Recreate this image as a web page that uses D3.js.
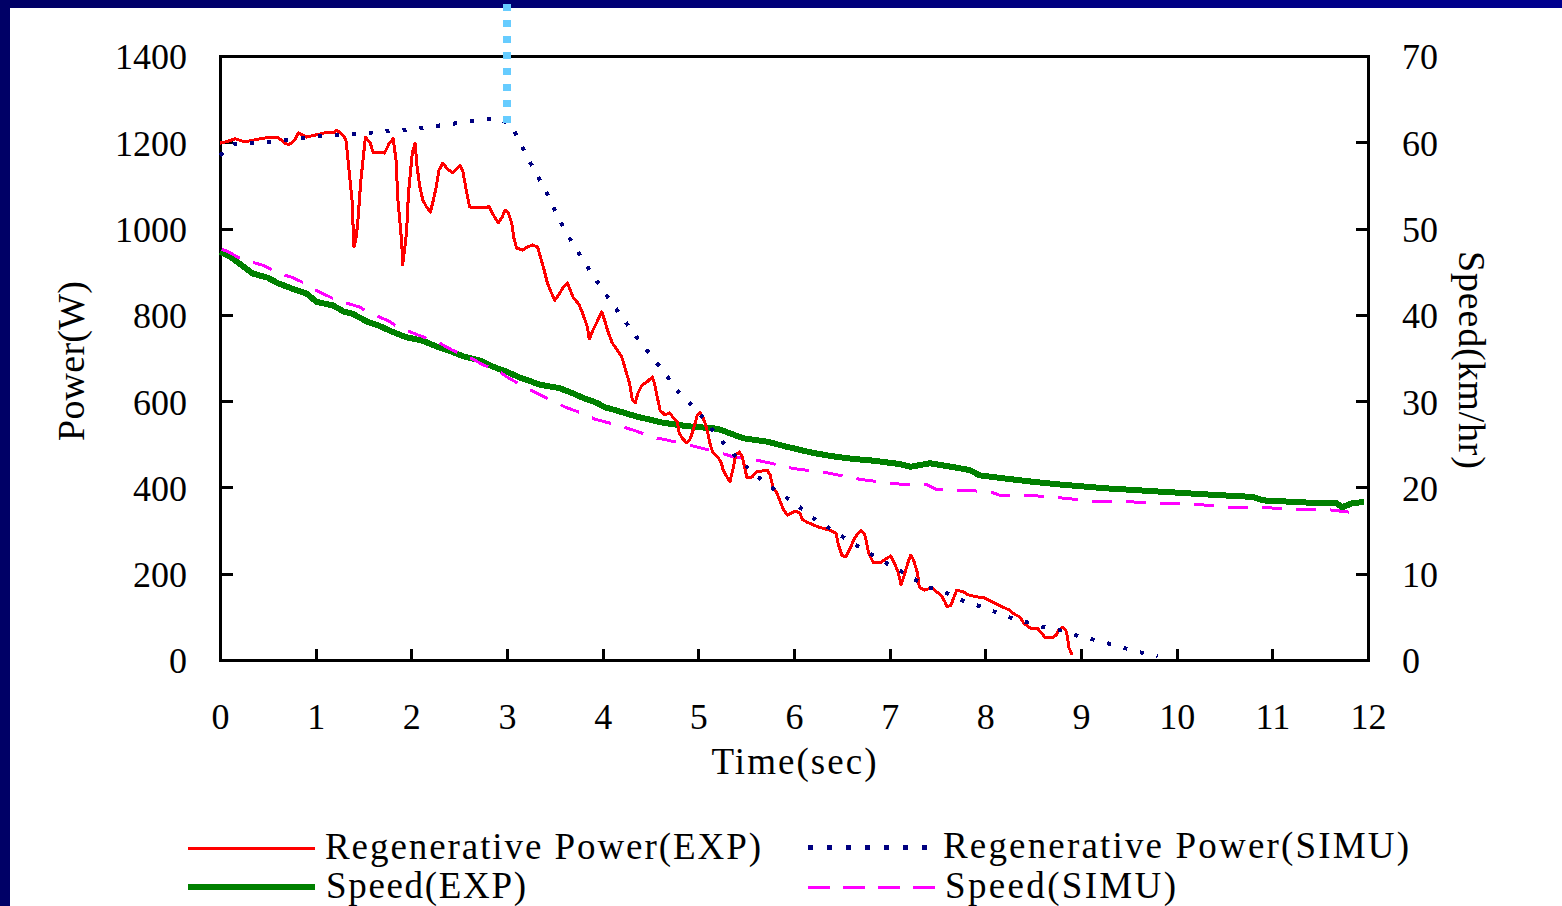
<!DOCTYPE html>
<html>
<head>
<meta charset="utf-8">
<script src="https://cdn.jsdelivr.net/npm/d3@7"></script>
<style>
  body { margin: 0; background: #fff; }
  svg { display: block; }
  text { font-family: "Liberation Serif", "Times New Roman", serif; fill: #000; }
  path, line, rect { shape-rendering: crispEdges; }
</style>
</head>
<body>
<svg id="chart" width="1562" height="906"></svg>
<script>
// time axis / tick labels
var xTicks = [0,1,2,3,4,5,6,7,8,9,10,11,12];
var powerTicks = [0,200,400,600,800,1000,1200,1400];
var speedTicks = [0,10,20,30,40,50,60,70];

// Regenerative Power (EXP)
var expPowerTime = [0,0.06,0.16,0.26,0.42,0.52,0.60,0.68,0.72,0.78,0.82,0.90,1.10,1.18,1.22,1.26,1.30,1.32,1.34,1.38,1.40,1.42,1.44,1.47,1.52,1.57,1.60,1.72,1.77,1.81,1.84,1.86,1.90,1.91,1.95,1.97,2.01,2.04,2.06,2.09,2.12,2.16,2.20,2.23,2.26,2.29,2.33,2.37,2.43,2.46,2.51,2.54,2.58,2.61,2.79,2.81,2.84,2.87,2.91,2.95,2.98,3.01,3.05,3.07,3.10,3.16,3.21,3.27,3.32,3.38,3.42,3.46,3.50,3.54,3.59,3.63,3.66,3.69,3.75,3.79,3.84,3.86,3.90,3.95,3.99,4.02,4.06,4.10,4.15,4.20,4.24,4.28,4.31,4.34,4.37,4.41,4.46,4.52,4.54,4.57,4.60,4.65,4.70,4.74,4.78,4.80,4.84,4.88,4.91,4.94,4.99,5.02,5.05,5.07,5.10,5.12,5.15,5.21,5.24,5.26,5.30,5.33,5.36,5.39,5.43,5.46,5.49,5.51,5.56,5.61,5.72,5.75,5.78,5.82,5.85,5.89,5.93,6.01,6.06,6.09,6.15,6.26,6.37,6.44,6.46,6.50,6.54,6.59,6.61,6.64,6.70,6.74,6.76,6.78,6.83,6.90,6.96,7.01,7.05,7.09,7.12,7.16,7.19,7.22,7.25,7.29,7.31,7.36,7.44,7.51,7.55,7.58,7.60,7.64,7.67,7.70,7.77,7.82,7.92,7.99,8.08,8.18,8.25,8.28,8.36,8.40,8.47,8.54,8.58,8.62,8.71,8.74,8.77,8.81,8.84,8.86,8.87,8.90,8.91];
var expPower = [1198,1201,1208,1201,1208,1212,1212,1198,1194,1205,1222,1212,1222,1222,1228,1222,1212,1201,1154,1066,957,974,1013,1106,1212,1198,1177,1175,1198,1208,1159,1066,967,916,990,1082,1175,1198,1143,1096,1066,1050,1038,1066,1096,1136,1152,1140,1129,1136,1147,1131,1082,1050,1048,1052,1038,1027,1013,1027,1043,1038,1013,980,955,950,957,962,957,911,876,853,834,846,865,874,858,841,825,804,772,744,765,788,807,788,758,735,719,702,672,642,603,596,619,637,644,656,642,610,579,568,573,561,552,526,512,503,510,528,568,573,561,549,526,503,482,468,457,440,424,413,440,475,482,471,440,422,424,436,440,429,401,387,371,348,336,345,341,325,318,308,301,294,271,243,239,260,271,285,301,290,271,248,225,225,234,241,225,202,174,202,225,243,232,202,169,162,167,155,146,134,123,127,144,162,158,151,146,144,134,123,116,109,100,86,74,74,65,53,53,58,70,76,70,53,30,16,12];

// Regenerative Power (SIMU)
var simPowerTime = [0,0.15,0.5,1.0,1.5,2.0,2.5,2.9,3.04,3.2,3.4,3.6,3.8,4.0,4.2,4.4,4.6,4.8,5.0,5.2,5.4,5.6,5.8,6.0,6.2,6.4,6.6,6.8,7.0,7.2,7.4,7.6,7.8,8.0,8.2,8.4,8.6,8.8,9.0,9.2,9.4,9.6,9.8];
var simPower = [1170,1196,1200,1213,1221,1230,1245,1256,1242,1170,1090,997,925,858,795,735,679,619,575,519,470,428,394,365,329,301,273,246,220,195,169,155,134,121,102,90,77,68,53,44,31,19,8];

// Speed (EXP)
var expSpeedTime = [0,0.11,0.22,0.34,0.50,0.60,0.74,0.90,1.01,1.18,1.29,1.39,1.54,1.67,1.81,1.95,2.12,2.27,2.43,2.54,2.72,2.85,3.00,3.14,3.35,3.55,3.69,3.79,3.94,4.02,4.15,4.36,4.63,4.88,5.20,5.30,5.47,5.72,5.93,6.20,6.41,6.62,6.83,7.11,7.22,7.42,7.64,7.84,7.94,8.23,8.54,8.82,9.26,9.70,10.29,10.79,10.90,11.45,11.67,11.73,11.84,11.96];
var expSpeed = [47.3,46.7,45.8,44.8,44.3,43.7,43.1,42.5,41.5,41.1,40.4,40.1,39.2,38.7,38.0,37.4,37.0,36.3,35.7,35.2,34.7,34.0,33.4,32.7,31.9,31.5,30.9,30.4,29.8,29.3,28.9,28.2,27.5,27.1,26.8,26.4,25.7,25.3,24.7,24.0,23.6,23.3,23.1,22.7,22.4,22.8,22.4,22.0,21.4,21.0,20.6,20.3,19.9,19.6,19.2,18.9,18.5,18.2,18.2,17.7,18.2,18.3];

// Speed (SIMU)
var simSpeedTime = [0.02,0.11,0.18,0.34,0.46,0.64,0.74,0.88,0.96,1.18,1.28,1.46,1.55,1.76,1.83,1.97,2.04,2.30,2.43,2.64,2.75,2.91,3.00,3.19,3.35,3.48,3.61,3.76,3.92,4.13,4.36,4.52,4.63,4.91,5.02,5.26,5.38,5.59,5.72,5.99,6.34,6.71,7.17,7.39,7.48,7.71,8.05,8.15,8.44,8.78,9.13,9.46,9.78,10.16,10.53,10.90,11.23,11.60,11.91];
var simSpeed = [47.6,47.2,46.7,46.1,45.7,44.7,44.4,43.7,43.1,41.9,41.5,40.9,40.3,39.3,38.8,38.1,37.8,36.7,35.9,34.9,34.2,33.5,32.8,31.6,30.7,30.0,29.3,28.7,27.9,27.3,26.5,25.8,25.6,24.9,24.6,23.9,23.5,23.2,22.9,22.2,21.7,20.9,20.3,20.3,19.8,19.7,19.5,19.1,19.1,18.8,18.4,18.4,18.1,18.1,17.7,17.7,17.4,17.4,17.0];

var legendNames = ["Regenerative Power(EXP)", "Speed(EXP)", "Regenerative Power(SIMU)", "Speed(SIMU)"];

var plotL = 220, plotR = 1368, plotT = 56, plotB = 660;

var svg = d3.select('#chart');

// navy frame (top + left bands only)
var grad = svg.append('defs').append('linearGradient').attr('id','topband');
grad.append('stop').attr('offset','0%').attr('stop-color','#000066');
grad.append('stop').attr('offset','100%').attr('stop-color','#00008e');
svg.append('rect').attr('x',0).attr('y',0).attr('width',1562).attr('height',8).attr('fill','url(#topband)');
svg.append('rect').attr('x',0).attr('y',0).attr('width',10).attr('height',906).attr('fill','#000066');

var x = d3.scaleLinear().domain([0,12]).range([plotL,plotR]);
var yP = d3.scaleLinear().domain([0,1400]).range([plotB,plotT]);
var yS = d3.scaleLinear().domain([0,70]).range([plotB,plotT]);

function zip(a,b){ return a.map(function(d,i){ return [d,b[i]]; }); }

// axes, ticks pointing inward
svg.append('g').attr('class','yaxis-left')
   .attr('transform','translate('+plotL+',0)')
   .call(d3.axisLeft(yP).tickValues(powerTicks).tickFormat(d3.format('d')).tickSize(-13).tickSizeOuter(0).tickPadding(33));
svg.append('g').attr('class','yaxis-right')
   .attr('transform','translate('+plotR+',0)')
   .call(d3.axisRight(yS).tickValues(speedTicks).tickFormat(d3.format('d')).tickSize(-12).tickSizeOuter(0).tickPadding(34));
svg.append('g').attr('class','xaxis')
   .attr('transform','translate(0,'+plotB+')')
   .call(d3.axisBottom(x).tickValues(xTicks).tickFormat(d3.format('d')).tickSize(-11).tickSizeOuter(0).tickPadding(43));

svg.selectAll('.domain').remove();
svg.selectAll('.tick line').attr('stroke','#000').attr('stroke-width',3);
svg.selectAll('.tick text').style('font-size','36px').attr('fill','#000');
svg.selectAll('.yaxis-left .tick text, .yaxis-right .tick text').attr('dy','0.36em');

svg.append('rect').attr('x',plotL).attr('y',plotT).attr('width',plotR-plotL).attr('height',plotB-plotT)
   .attr('fill','none').attr('stroke','#000').attr('stroke-width',3);

// series
var line = d3.line();
svg.append('path').datum(zip(expSpeedTime,expSpeed).map(function(d){ return [x(d[0]), yS(d[1])]; }))
   .attr('d',line).attr('fill','none').attr('stroke','#008000').attr('stroke-width',6);
svg.append('path').datum(zip(simSpeedTime,simSpeed).map(function(d){ return [x(d[0]), yS(d[1])]; }))
   .attr('d',line).attr('fill','none').attr('stroke','#ff00ff').attr('stroke-width',3).attr('stroke-dasharray','20,14');
svg.append('path').datum(zip(expPowerTime,expPower).map(function(d){ return [x(d[0]), yP(d[1])]; }))
   .attr('d',line).attr('fill','none').attr('stroke','#ff0000').attr('stroke-width',3).attr('stroke-linejoin','round');
svg.append('path').datum(zip(simPowerTime,simPower).map(function(d){ return [x(d[0]), yP(d[1])]; }))
   .attr('d',line).attr('fill','none').attr('stroke','#000080').attr('stroke-width',4).attr('stroke-dasharray','4,13');

// light blue marker at t = 3
svg.append('line').attr('x1',x(3)).attr('x2',x(3)).attr('y1',4).attr('y2',yP(1245))
   .attr('stroke','#66ccff').attr('stroke-width',8).attr('stroke-dasharray','7,9');

// axis titles
svg.append('text').attr('x',(plotL+plotR)/2).attr('y',774).attr('text-anchor','middle')
   .attr('textLength',165).attr('lengthAdjust','spacing').style('font-size','37px').text('Time(sec)');
svg.append('text').attr('transform','translate(84,361) rotate(-90)').attr('text-anchor','middle')
   .attr('textLength',160).attr('lengthAdjust','spacing').style('font-size','38px').text('Power(W)');
svg.append('text').attr('transform','translate(1459,360) rotate(90)').attr('text-anchor','middle')
   .attr('textLength',218).attr('lengthAdjust','spacing').style('font-size','38px').text('Speed(km/hr)');

// legend
var legend = [
  {name: legendNames[0], lx: 188, tx: 325, y: 848, len: 436, color: '#ff0000', w: 3, dash: null},
  {name: legendNames[1], lx: 188, tx: 326, y: 887, len: 200, color: '#008000', w: 6, dash: null},
  {name: legendNames[2], lx: 808, tx: 943, y: 847, len: 466, color: '#000080', w: 5, dash: '5,14'},
  {name: legendNames[3], lx: 808, tx: 945, y: 887, len: 231, color: '#ff00ff', w: 3, dash: '22,13'}
];
var lg = svg.append('g').selectAll('g').data(legend).enter().append('g');
lg.append('line').attr('x1',function(d){ return d.lx; }).attr('x2',function(d){ return d.lx+127; })
  .attr('y1',function(d){ return d.y; }).attr('y2',function(d){ return d.y; })
  .attr('stroke',function(d){ return d.color; }).attr('stroke-width',function(d){ return d.w; })
  .attr('stroke-dasharray',function(d){ return d.dash; });
lg.append('text').attr('x',function(d){ return d.tx; }).attr('y',function(d){ return d.y+11; })
  .attr('textLength',function(d){ return d.len; }).attr('lengthAdjust','spacing')
  .style('font-size','37px').text(function(d){ return d.name; });
</script>
</body>
</html>
